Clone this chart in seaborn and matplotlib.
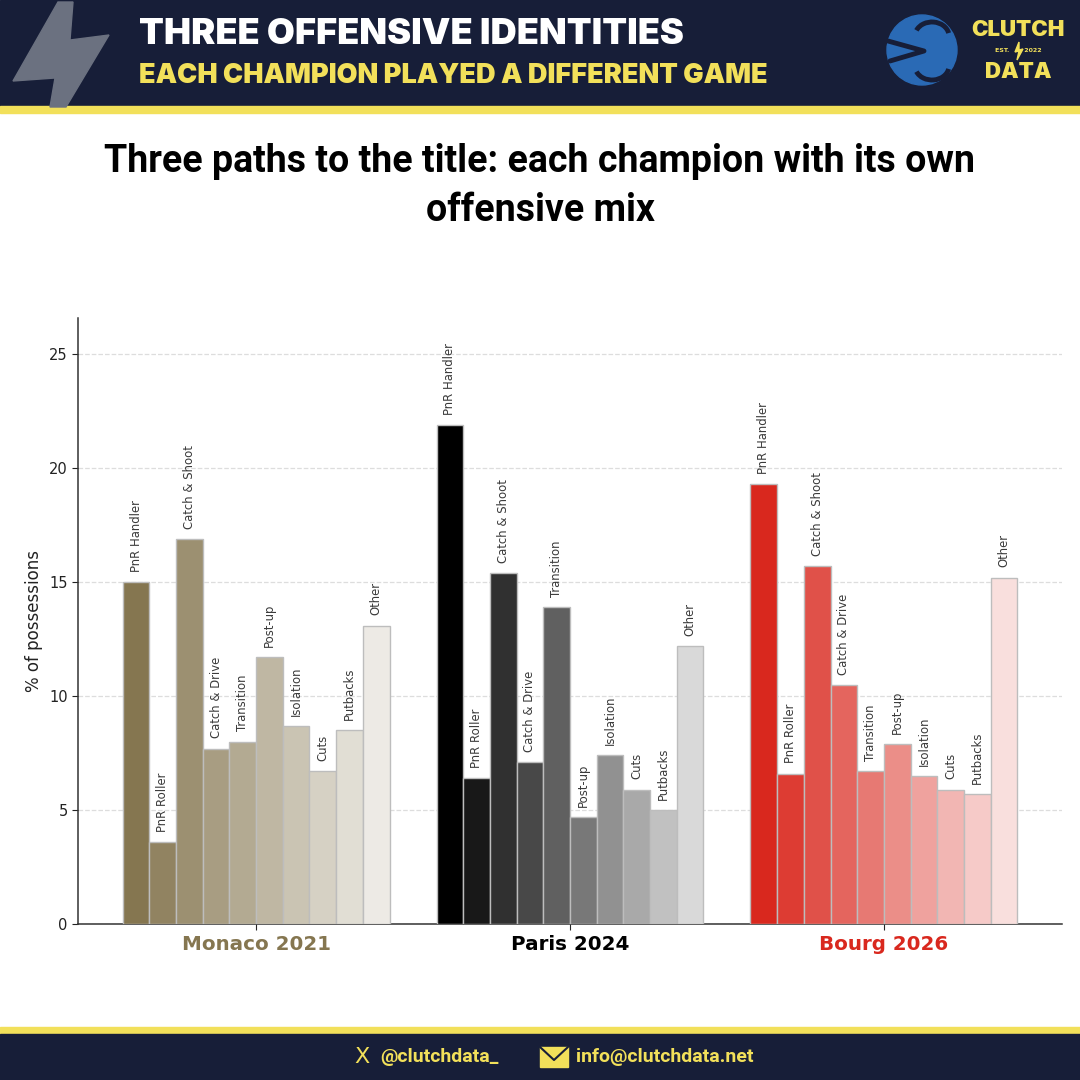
import matplotlib
matplotlib.use('Agg')
import matplotlib.pyplot as plt
from matplotlib.patches import Polygon, Rectangle, Circle, Arc
import numpy as np
import pandas as pd
import seaborn as sns

teams = ['Monaco 2021', 'Paris 2024', 'Bourg 2026']
play_types = ['PnR Handler', 'PnR Roller', 'Catch & Shoot', 'Catch & Drive', 'Transition',
              'Post-up', 'Isolation', 'Cuts', 'Putbacks', 'Other']
monaco = [15.0, 3.6, 16.9, 7.7, 8.0, 11.7, 8.7, 6.7, 8.5, 13.1]
paris = [21.9, 6.4, 15.4, 7.1, 13.9, 4.7, 7.4, 5.9, 5.0, 12.2]
bourg = [19.3, 6.6, 15.7, 10.5, 6.7, 7.9, 6.5, 5.9, 5.7, 15.2]
team_colors = ['#857650', '#000000', '#D9281E']

NAVY = '#171E38'
YELLOW = '#F2E05A'

rows = []
for team, vals in zip(teams, [monaco, paris, bourg]):
    for play, v in zip(play_types, vals):
        rows.append({'team': team, 'play': play, 'pct': v})
df = pd.DataFrame(rows)

sns.set_theme(style='white')
plt.rcParams['font.family'] = ['DejaVu Sans']

fig = plt.figure(figsize=(10.8, 10.8), dpi=100)
fig.patch.set_facecolor('white')

# background decorations in pixel coordinates
bg = fig.add_axes([0, 0, 1, 1], zorder=0)
bg.set_xlim(0, 1080)
bg.set_ylim(1080, 0)
bg.axis('off')
bg.add_patch(Rectangle((0, 0), 1080, 106, color=NAVY))
bg.add_patch(Rectangle((0, 106), 1080, 7, color=YELLOW))
bg.add_patch(Polygon([(58, 2), (73, 2), (70, 40), (109, 35), (66, 107), (50, 107), (55, 78), (13, 81)],
                     closed=True, color='#6B7180'))
bg.text(139, 35, 'THREE OFFENSIVE IDENTITIES', color='white', fontsize=26, fontweight='black',
        family='Inter', va='center', ha='left')
bg.text(139, 76, 'EACH CHAMPION PLAYED A DIFFERENT GAME', color=YELLOW, fontsize=19.5, fontweight='black',
        family='Inter', va='center', ha='left')
# logo
bg.add_patch(Circle((922, 50), 35, color='#2A6AB5'))
bg.add_patch(Arc((932, 36), 34, 28, theta1=200, theta2=350, color=NAVY, lw=3.5))
bg.plot([888, 924, 890], [41, 51, 61], color=NAVY, lw=3.5, solid_capstyle='round')
bg.add_patch(Arc((932, 66), 34, 28, theta1=10, theta2=160, color=NAVY, lw=3.5))
bg.text(1018, 30, 'CLUTCH', color=YELLOW, fontsize=16, fontweight='black', family='Inter',
        ha='center', va='center')
bg.text(1018, 51, 'EST.       2022', color=YELLOW, fontsize=4.5, fontweight='bold', ha='center', va='center')
bg.add_patch(Polygon([(1019, 42), (1015, 52), (1019, 51), (1017, 60), (1023, 49), (1019, 50)],
                     closed=True, color=YELLOW))
bg.text(1018, 72, 'DATA', color=YELLOW, fontsize=16, fontweight='black', family='Inter',
        ha='center', va='center')
# footer
bg.add_patch(Rectangle((0, 1027), 1080, 7, color=YELLOW))
bg.add_patch(Rectangle((0, 1034), 1080, 46, color=NAVY))
bg.text(362, 1057, 'X', color=YELLOW, fontsize=16, family='DejaVu Sans', ha='center', va='center')
bg.text(380, 1057, '@clutchdata_', color=YELLOW, fontsize=14, fontweight='bold', family='Roboto',
        ha='left', va='center')
bg.add_patch(Rectangle((540, 1047), 28, 20, color=YELLOW))
bg.plot([540, 554, 568], [1047, 1060, 1047], color=NAVY, lw=1.5)
bg.text(576, 1057, 'info@clutchdata.net', color=YELLOW, fontsize=14, fontweight='bold', family='Roboto',
        ha='left', va='center')

# chart title
fig.text(0.5, 1 - 186 / 1080, 'Three paths to the title: each champion with its own\noffensive mix',
         ha='center', va='center', fontsize=27, fontweight='bold', family='Roboto',
         linespacing=1.4, color='black')

ax = fig.add_axes([78 / 1080, 1 - 924 / 1080, (1062 - 78) / 1080, (924 - 318) / 1080], zorder=1)
ax.patch.set_alpha(0)

bar_w = 0.085
sns.barplot(data=df, x='team', y='pct', hue='play', order=teams, hue_order=play_types,
            width=bar_w * len(play_types), gap=0, dodge=True, legend=False, ax=ax,
            palette=['#888888'] * len(play_types), saturation=1)

alphas = np.linspace(1.0, 0.15, len(play_types))
for p in ax.patches:
    cx = p.get_x() + p.get_width() / 2
    ti = int(round(cx))
    pi = int(round((cx - ti) / bar_w + (len(play_types) - 1) / 2))
    base = np.array(matplotlib.colors.to_rgb(team_colors[ti]))
    col = 1 - (1 - base) * alphas[pi]
    p.set_facecolor(col)
    p.set_edgecolor('#bdbdbd')
    p.set_linewidth(1)
    p.set_zorder(3)
    ax.text(cx, p.get_height() + 0.45, play_types[pi], rotation=90, ha='center', va='bottom',
            fontsize=8.4, color='#3a3a3a', zorder=4)

ax.set_xlim(-0.5675, 2.5675)
ax.set_ylim(0, 26.6)
ax.set_yticks([0, 5, 10, 15, 20, 25])
ax.grid(axis='y', linestyle='--', color='#dddddd', linewidth=0.9, zorder=0)
ax.set_axisbelow(True)
ax.set_xlabel('')
ax.set_ylabel('% of possessions', fontsize=12, color='#222222')
sns.despine(ax=ax)
for s in ['left', 'bottom']:
    ax.spines[s].set_color('#333333')
    ax.spines[s].set_linewidth(1.1)
ax.tick_params(axis='y', labelsize=10.5, colors='#222222', length=4, width=0.8, left=True)
ax.tick_params(axis='x', length=4, width=0.8, bottom=True, pad=4)
ax.set_xticks(range(len(teams)))
ax.set_xticklabels(teams, fontsize=14.3, fontweight='bold')
for lbl, c in zip(ax.get_xticklabels(), team_colors):
    lbl.set_color(c)

fig.savefig('out.png', dpi=100, facecolor='white')
